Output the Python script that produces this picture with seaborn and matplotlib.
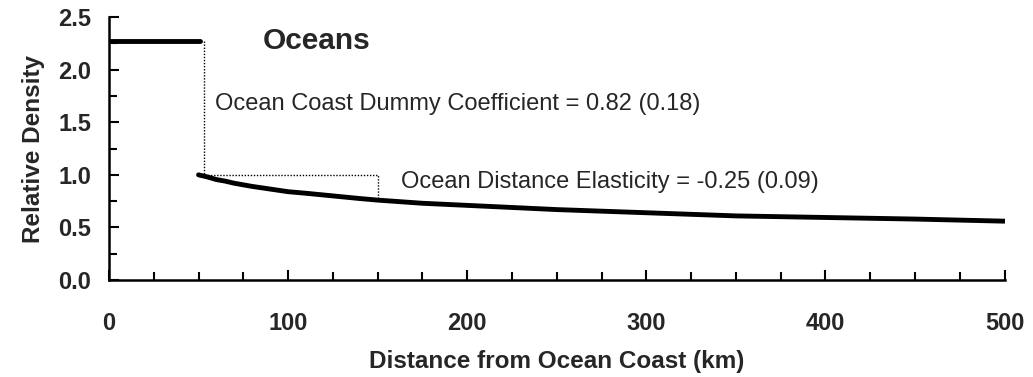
import numpy as np
import pandas as pd
import seaborn as sns
import matplotlib.pyplot as plt
from matplotlib.ticker import MultipleLocator

# coast dummy segment (0 to ~50 km)
coast_x = [0, 51]
coast_y = [2.27, 2.27]

# distance decay beyond the coast band
dist_x = [50, 55, 60, 65, 70, 75, 80, 90, 100, 110, 125, 140, 150, 175, 200, 225, 250, 300, 350, 400, 450, 500]
dist_y = [1.00, 0.98, 0.955, 0.94, 0.92, 0.905, 0.89, 0.865, 0.84, 0.825, 0.80, 0.775, 0.76, 0.73, 0.71, 0.69, 0.67, 0.64, 0.61, 0.595, 0.58, 0.56]

# dotted guide lines
guide_x = [53, 53, 150, 150]
guide_y = [2.27, 1.00, 1.00, 0.77]

sns.set_style("ticks")
plt.rcParams['font.family'] = ['Liberation Sans', 'DejaVu Sans']

fig = plt.figure(figsize=(10.33, 3.77), dpi=100)
ax = fig.add_axes([0.1055, 0.257, 0.867, 0.698])

sns.lineplot(x=coast_x, y=coast_y, ax=ax, color='black', lw=3.5, solid_capstyle='round')
sns.lineplot(x=dist_x, y=dist_y, ax=ax, color='black', lw=3.5, solid_capstyle='round')
ax.plot(guide_x, guide_y, color='black', lw=1.0, ls=(0, (1, 1.2)))

ax.set_xlim(0, 500)
ax.set_ylim(0, 2.5)
ax.xaxis.set_major_locator(MultipleLocator(100))
ax.xaxis.set_minor_locator(MultipleLocator(25))
ax.yaxis.set_major_locator(MultipleLocator(0.5))
ax.yaxis.set_minor_locator(MultipleLocator(0.25))
ax.yaxis.set_major_formatter(plt.FormatStrFormatter('%.1f'))
ax.tick_params(which='both', direction='in', width=1.5, color='black')
ax.tick_params(which='major', length=7, labelsize=17, pad=13)
ax.tick_params(which='minor', length=6)
ax.tick_params(axis='x', pad=23)
for lab in ax.get_xticklabels() + ax.get_yticklabels():
    lab.set_fontweight('bold')

sns.despine(ax=ax)
for s in ['left', 'bottom']:
    ax.spines[s].set_linewidth(1.8)
    ax.spines[s].set_color('black')

ax.set_xlabel('Distance from Ocean Coast (km)', fontsize=17.5, fontweight='bold', labelpad=11)
ax.set_ylabel('Relative Density', fontsize=17.5, fontweight='bold', labelpad=9)

ax.text(86, 2.27, 'Oceans', fontsize=21.5, fontweight='bold', va='center')
ax.text(59, 1.67, 'Ocean Coast Dummy Coefficient = 0.82 (0.18)', fontsize=17, va='center')
ax.text(163, 0.93, 'Ocean Distance Elasticity = -0.25 (0.09)', fontsize=17, va='center')

plt.savefig('out.png', dpi=100)
